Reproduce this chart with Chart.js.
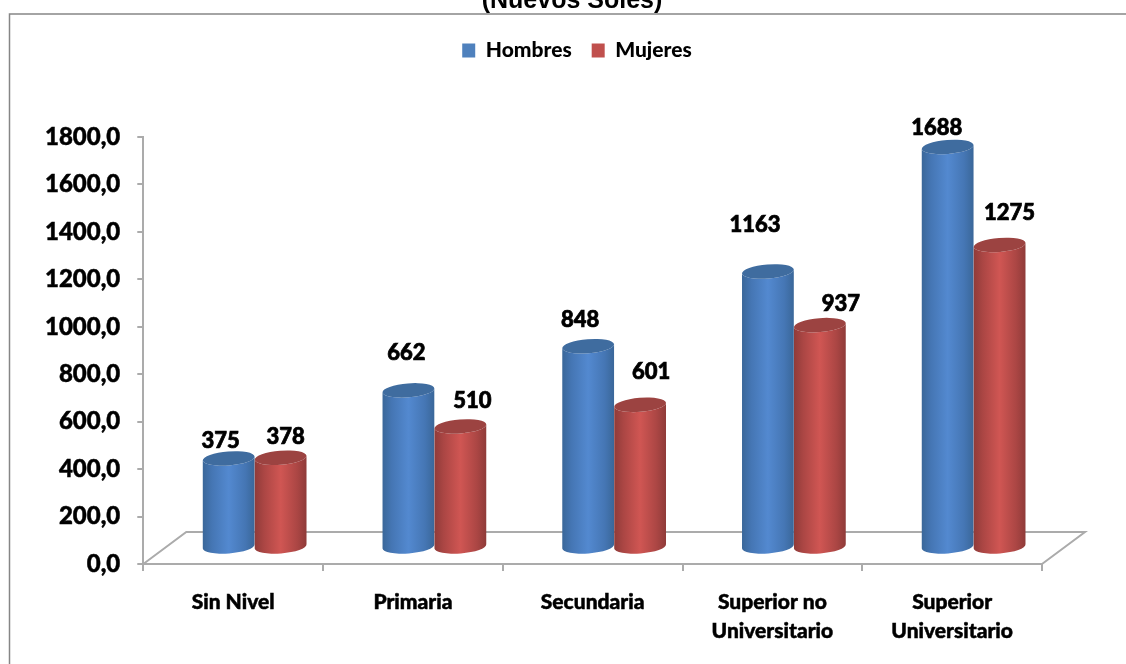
<!DOCTYPE html>
<html>
<head>
<meta charset="utf-8">
<title>Ingreso promedio</title>
<style>
  html, body { margin: 0; padding: 0; background: #fff; overflow: hidden; }
  #wrap { position: relative; width: 1126px; height: 664px; }
  #c1 { filter: blur(0.5px); }
</style>
<script src="https://cdn.jsdelivr.net/npm/chart.js@4"></script>
</head>
<body>
<div id="wrap"><canvas id="c1"></canvas></div>
<script>
const categories = ['Sin Nivel', 'Primaria', 'Secundaria', ['Superior no', 'Universitario'], ['Superior', 'Universitario']];
const hombres = [375, 662, 848, 1163, 1688];
const mujeres = [378, 510, 601, 937, 1275];
const yTicks = [0, 200, 400, 600, 800, 1000, 1200, 1400, 1600, 1800];

// the value labels were hand placed in the original, so each one has its own nudge
const hombresNudge = [[-8, -17.5], [-2, -37.5], [-8, -26.5], [-13, -46.5], [-11, -19]];
const mujeresNudge = [[5, -21], [12, -25.5], [11, -33], [21, -21], [10, -32]];

const labelFont = 'Lato';
const depthX = 43, depthY = 32;
const axisGrey = '#ababab';

const shades = [
    { edge: '#3a6799', side: '#4576b4', mid: '#5389d0', top: '#3f6c9f' },
    { edge: '#8f3b39', side: '#ab4644', mid: '#d05653', top: '#9c4341' }
];

const cylinder = (ctx, x, top, base, w, s) => {
    const rx = w / 2, ry = 7, tilt = -0.08;
    const g = ctx.createLinearGradient(x - rx, 0, x + rx, 0);
    g.addColorStop(0, s.edge);
    g.addColorStop(0.18, s.side);
    g.addColorStop(0.5, s.mid);
    g.addColorStop(0.82, s.side);
    g.addColorStop(1, s.edge);
    ctx.fillStyle = g;
    ctx.beginPath();
    ctx.ellipse(x, top, rx, ry, tilt, Math.PI, 0, true);
    ctx.ellipse(x, base, rx, ry, tilt, 0, Math.PI);
    ctx.closePath();
    ctx.fill();
    ctx.fillStyle = s.top;
    ctx.beginPath();
    ctx.ellipse(x, top, rx, ry, tilt, 0, Math.PI * 2);
    ctx.fill();
};

const sheet = {
    id: 'sheet',
    beforeDraw(chart) {
        const ctx = chart.ctx;
        ctx.save();
        ctx.strokeStyle = '#868686';
        ctx.lineWidth = 1.5;
        ctx.strokeRect(9.5, 14, 1130, 700);
        ctx.restore();
    },
    afterLayout(chart) {
        chart.titleBlock.left += 37;
        chart.titleBlock.right += 37;
        chart.titleBlock.top = -14;
        chart.legend.left += 42;
        chart.legend.right += 42;
        chart.legend.top = 20;
    },
    beforeDatasetsDraw(chart) {
        const ctx = chart.ctx, a = chart.chartArea;
        // floor of the 3D box
        ctx.save();
        ctx.strokeStyle = axisGrey;
        ctx.lineWidth = 2;
        ctx.beginPath();
        ctx.moveTo(a.left, a.bottom);
        ctx.lineTo(a.left + depthX, a.bottom - depthY);
        ctx.lineTo(a.right + depthX, a.bottom - depthY);
        ctx.lineTo(a.right, a.bottom);
        ctx.stroke();

        const nudges = [hombresNudge, mujeresNudge];
        const metas = [chart.getDatasetMeta(0), chart.getDatasetMeta(1)];
        categories.forEach((_, i) => {
            metas.forEach((m, d) => {
                const bar = m.data[i];
                cylinder(ctx, bar.x + depthX / 2, bar.y, bar.base - 1, bar.width, shades[d]);
            });
        });
        ctx.fillStyle = '#000';
        ctx.strokeStyle = '#000';
        ctx.lineWidth = 0.7;
        ctx.font = '900 22px ' + labelFont;
        ctx.textAlign = 'center';
        ctx.textBaseline = 'middle';
        metas.forEach((m, d) => {
            m.data.forEach((bar, i) => {
                const n = nudges[d][i];
                const txt = chart.data.datasets[d].data[i];
                ctx.fillText(txt, bar.x + depthX / 2 + n[0], bar.y + n[1]);
                ctx.strokeText(txt, bar.x + depthX / 2 + n[0], bar.y + n[1]);
            });
        });
        ctx.restore();
        return false;
    }
};

new Chart(document.getElementById('c1').getContext('2d'), {
    type: 'bar',
    data: {
        labels: categories,
        datasets: [
            { label: 'Hombres', data: hombres, backgroundColor: '#4f81bd', yAxisID: 'yBars' },
            { label: 'Mujeres', data: mujeres, backgroundColor: '#c0504d', yAxisID: 'yBars' }
        ]
    },
    options: {
        responsive: true,
        maintainAspectRatio: false,
        animation: false,
        devicePixelRatio: 1,
        categoryPercentage: 0.578,
        barPercentage: 1,
        layout: { padding: { left: 28, right: 84, top: 56, bottom: 1 } },
        plugins: {
            title: {
                display: true,
                text: '(Nuevos Soles)',
                color: '#000',
                font: { family: '"Liberation Sans"', size: 25, weight: 'bold' },
                padding: 0
            },
            legend: {
                position: 'top',
                labels: {
                    color: '#000',
                    font: { family: labelFont, size: 21, weight: '900' },
                    boxWidth: 13,
                    boxHeight: 14,
                    padding: 20
                }
            },
            tooltip: { enabled: false }
        },
        scales: {
            x: {
                grid: { display: true, drawOnChartArea: false, color: axisGrey, tickLength: 7, lineWidth: 2 },
                border: { color: axisGrey, width: 2 },
                ticks: { color: '#000', font: { family: labelFont, size: 21, weight: '900', lineHeight: 1.38 }, maxRotation: 0, padding: 17, textStrokeColor: '#000', textStrokeWidth: 0.5 }
            },
            y: {
                min: 0,
                max: 1800,
                afterBuildTicks: axis => { axis.ticks = yTicks.map(v => ({ value: v })); },
                grid: { display: true, drawOnChartArea: false, color: axisGrey, tickLength: 6, lineWidth: 2 },
                border: { color: axisGrey, width: 2 },
                ticks: { color: '#000', font: { family: labelFont, size: 24, weight: '900' }, padding: 17, textStrokeColor: '#000', textStrokeWidth: 0.5, callback: v => v.toFixed(1).replace('.', ',') }
            },
            // bars stand halfway back on the floor, so they run on their own hidden axis
            yBars: { display: false, min: -70, max: 1730 }
        }
    },
    plugins: [sheet]
});
</script>
</body>
</html>
